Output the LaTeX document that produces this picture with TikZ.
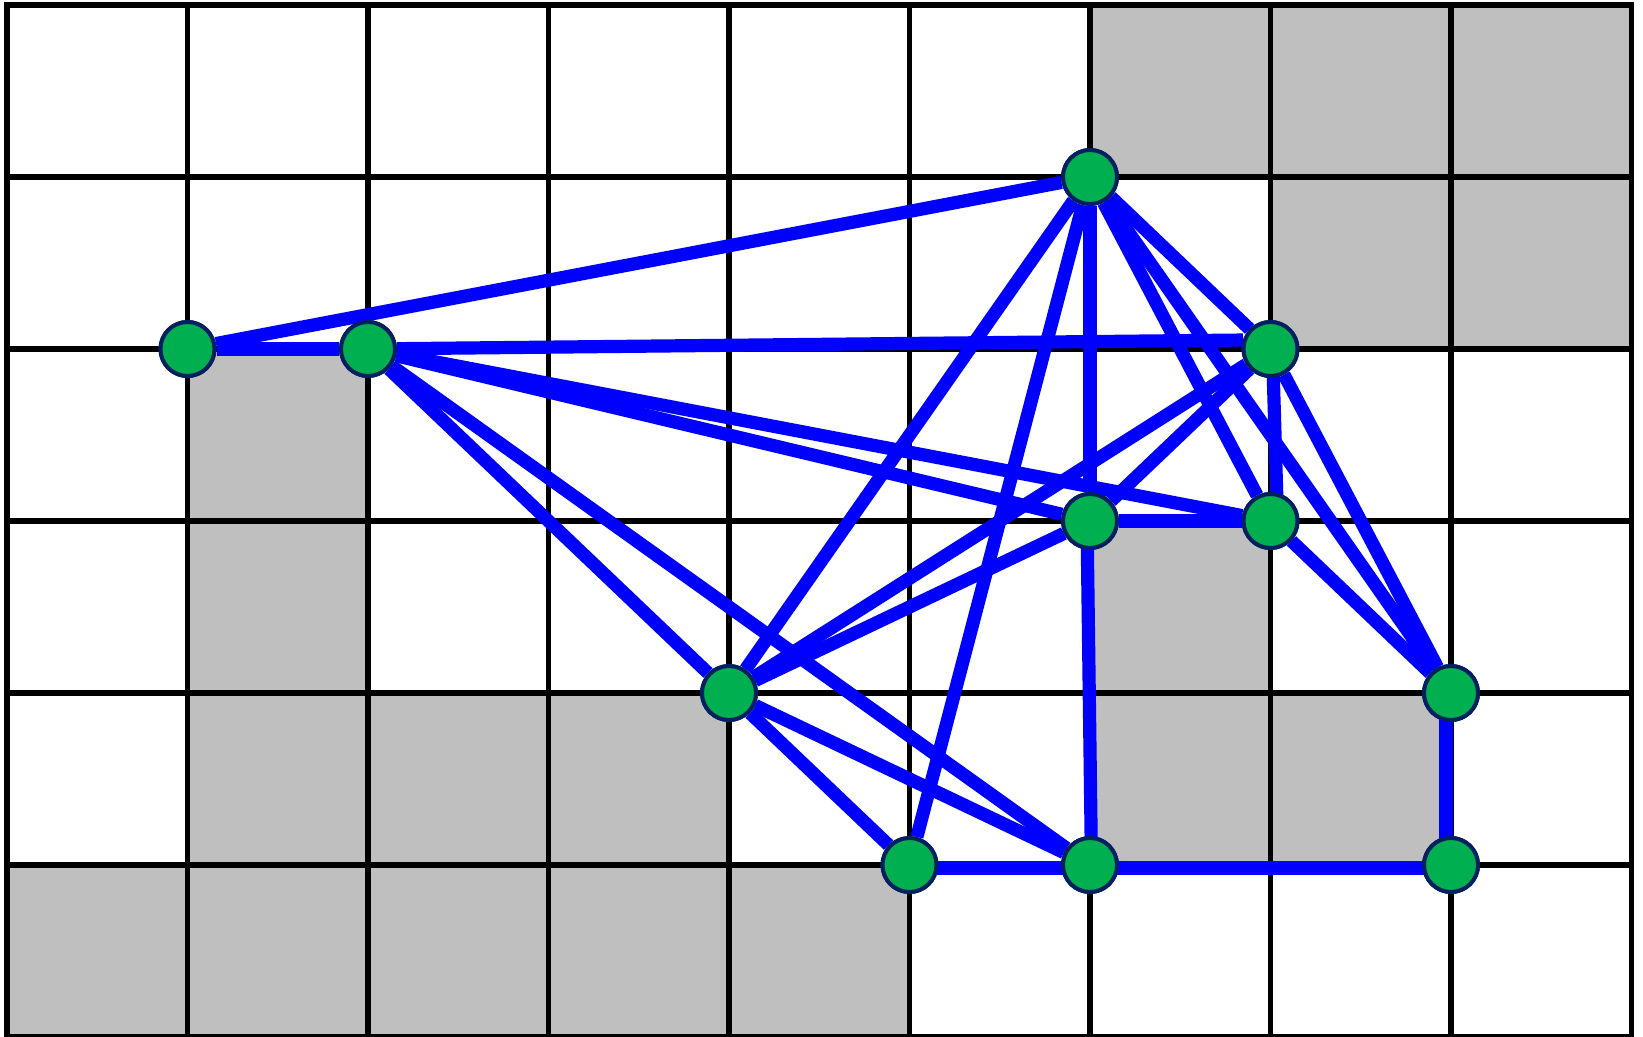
\documentclass[tikz,border=0pt]{standalone}
\usetikzlibrary{calc}
\definecolor{nodegreen}{HTML}{00B050}
\definecolor{nodenavy}{HTML}{002060}
\definecolor{cellgray}{HTML}{BFBFBF}
\definecolor{edgeblue}{HTML}{0000FF}
\tikzset{
  vtx/.style={circle, fill=nodegreen, draw=nodenavy, line width=2pt, minimum size=27pt, inner sep=0pt},
  edge/.style={draw=edgeblue, line width=6.6pt},
  gridline/.style={draw=black, line width=2.6pt},
  cell/.style={fill=cellgray}
}
\begin{document}
\begin{tikzpicture}[x=90.25pt, y=-86pt]
\useasboundingbox (-0.03878,-0.02907) rectangle (9.0637,6.0);
% gray cells
\foreach \c/\r in {6/0,7/0,8/0, 7/1,8/1, 1/2, 1/3,6/3, 1/4,2/4,3/4,6/4,7/4, 0/5,1/5,2/5,3/5,4/5}
  \fill[cell] (\c,\r) rectangle (\c+1,\r+1);
% grid
\foreach \i in {1,...,8} \draw[gridline] (\i,0) -- (\i,6);
\foreach \j in {1,...,5} \draw[gridline] (0,\j) -- (9,\j);
\draw[gridline] (0,0) rectangle (9,6);
% nodes
\node[vtx] (A) at (1,2) {};
\node[vtx] (B) at (2,2) {};
\node[vtx] (C) at (6,1) {};
\node[vtx] (D) at (7,2) {};
\node[vtx] (E) at (6,3) {};
\node[vtx] (F) at (7,3) {};
\node[vtx] (G) at (4,4) {};
\node[vtx] (H) at (8,4) {};
\node[vtx] (I) at (5,5) {};
\node[vtx] (J) at (6,5) {};
\node[vtx] (K) at (8,5) {};
% edges
\foreach \u/\v in {A/B, A/C, B/E, B/F, B/G, B/J, C/D, C/E, C/F, C/H, C/G, C/I, D/E, D/G, D/H, E/F, E/G, F/H, G/I, G/J}
  \draw[edge] (\u) -- (\v);
\draw[edge] (B) -- (D.162);
\draw[edge] ($(D)+(1pt,0)$) -- ($(F)+(3.5pt,0)$);
\draw[edge] ($(E)+(-1.5pt,0)$) -- ($(J)+(0.75pt,0)$);
\draw[edge] ($(I)+(0,-1.5pt)$) -- ($(J)+(0,-1.5pt)$) -- ($(K)+(0,-1.5pt)$);
\draw[edge] ($(H)+(-2.5pt,0)$) -- ($(K)+(-2.5pt,0)$);
% redraw nodes on top
\foreach \n in {A,B,C,D,E,F,G,H,I,J,K}
  \node[vtx] at (\n) {};
\end{tikzpicture}
\end{document}
